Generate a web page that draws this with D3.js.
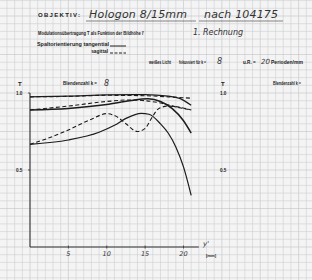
<!DOCTYPE html>
<html>
<head>
<meta charset="utf-8">
<script src="https://cdn.jsdelivr.net/npm/d3@7"></script>
<style>
  html, body { margin: 0; padding: 0; background: #f4f4f4; }
  svg { display: block; }
  .print { font-family: "Liberation Sans", Arial, sans-serif; font-weight: bold; fill: #222; }
  .hand { font-family: "DejaVu Sans", sans-serif; font-style: italic; fill: #333; }
</style>
</head>
<body>
<script>
// measured curves: [image height y' in mm, T]
const tanHigh = [[0,0.975],[5,0.98],[10,0.988],[15,0.99],[18,0.98],[19.5,0.965],[21,0.92]];
const tanMid  = [[0,0.89],[5,0.9],[10,0.925],[13,0.95],[15.4,0.962],[17,0.945],[18.5,0.9],[20,0.82],[21,0.74]];
const tanLow  = [[0,0.667],[5,0.695],[9,0.745],[11,0.79],[12.5,0.835],[14.5,0.868],[15.5,0.862],[17,0.8],[18,0.74],[19,0.65],[20,0.52],[21,0.335]];
const sagHigh = [[0,0.975],[5,0.978],[10,0.985],[15,0.982],[18,0.975],[21,0.966]];
const sagMid  = [[0,0.89],[5,0.915],[10,0.945],[13,0.955],[15,0.95],[17,0.935],[19,0.91],[21,0.89]];
const sagLow  = [[0,0.667],[2,0.7],[5,0.76],[8,0.83],[10,0.866],[11.5,0.84],[12.5,0.8],[14,0.75],[15,0.77],[16,0.85],[16.8,0.9],[18,0.915],[21,0.89]];

const xTicks = [5, 10, 15, 20];
const yTicks = [1.0, 0.5];

const width = 312, height = 280;
const svg = d3.select("body").append("svg")
              .attr("width", width)
              .attr("height", height);

// scales: origin of the left chart at (30,247)
const x = d3.scaleLinear().domain([0, 20]).range([30, 183.5]);
const y = d3.scaleLinear().domain([0, 1]).range([247, 93]);

// graph paper
const grid = svg.append("g").attr("stroke", "#cdced3").attr("stroke-width", 0.6);
d3.range(-4, 38).forEach(u => {
  grid.append("line").attr("x1", x(u)).attr("x2", x(u)).attr("y1", 0).attr("y2", height)
      .attr("stroke", u % 5 === 0 ? "#c2c3c8" : null);
});
d3.range(-6, 33).forEach(k => {
  grid.append("line").attr("x1", 0).attr("x2", width).attr("y1", y(k * 0.05)).attr("y2", y(k * 0.05))
      .attr("stroke", k % 5 === 0 ? "#c2c3c8" : null);
});

// header texts
svg.append("text").attr("class", "print").attr("x", 38).attr("y", 17)
   .attr("font-size", 6).attr("textLength", 42).attr("lengthAdjust", "spacing").text("OBJEKTIV:");
svg.append("text").attr("class", "hand").attr("x", 89).attr("y", 18)
   .attr("font-size", 11).attr("textLength", 98).text("Hologon  8/15mm");
svg.append("text").attr("class", "hand").attr("x", 204).attr("y", 18)
   .attr("font-size", 11).attr("textLength", 74).text("nach 104175");
svg.append("line").attr("x1", 86).attr("x2", 196).attr("y1", 21).attr("y2", 21).attr("stroke", "#555").attr("stroke-width", 0.7);
svg.append("line").attr("x1", 199).attr("x2", 283).attr("y1", 21).attr("y2", 21).attr("stroke", "#555").attr("stroke-width", 0.7);

svg.append("text").attr("class", "print").attr("x", 38).attr("y", 35)
   .attr("font-size", 4.8).attr("textLength", 106).attr("lengthAdjust", "spacingAndGlyphs")
   .text("Modulationsübertragung  T  als Funktion der Bildhöhe I'");
svg.append("text").attr("class", "hand").attr("x", 193).attr("y", 35)
   .attr("font-size", 8).attr("textLength", 50).text("1. Rechnung");

svg.append("text").attr("class", "print").attr("x", 37).attr("y", 46)
   .attr("font-size", 4.8).attr("textLength", 72).attr("lengthAdjust", "spacingAndGlyphs")
   .text("Spaltorientierung tangential");
svg.append("text").attr("class", "print").attr("x", 108).attr("y", 53).attr("text-anchor", "end")
   .attr("font-size", 4.8).text("sagittal");
svg.append("line").attr("x1", 110).attr("x2", 126).attr("y1", 46).attr("y2", 46).attr("stroke", "#222").attr("stroke-width", 1);
svg.append("line").attr("x1", 110).attr("x2", 126).attr("y1", 53).attr("y2", 53).attr("stroke", "#222").attr("stroke-width", 1).attr("stroke-dasharray", "3,1.5");

svg.append("text").attr("class", "print").attr("x", 149).attr("y", 63.5)
   .attr("font-size", 4.6).attr("textLength", 22).attr("lengthAdjust", "spacingAndGlyphs").text("weißes Licht");
svg.append("text").attr("class", "print").attr("x", 179).attr("y", 63.5)
   .attr("font-size", 4.6).attr("textLength", 27).attr("lengthAdjust", "spacingAndGlyphs").text("fokussiert für k =");
svg.append("text").attr("class", "hand").attr("x", 217).attr("y", 64).attr("font-size", 8).text("8");
svg.append("text").attr("class", "print").attr("x", 243).attr("y", 63.5)
   .attr("font-size", 4.6).text("u.R.  =");
svg.append("text").attr("class", "hand").attr("x", 261).attr("y", 64).attr("font-size", 7).text("20");
svg.append("text").attr("class", "print").attr("x", 271).attr("y", 63.5)
   .attr("font-size", 4.6).attr("textLength", 32).attr("lengthAdjust", "spacingAndGlyphs").text("Perioden/mm");

// left chart labels
svg.append("text").attr("class", "print").attr("x", 18).attr("y", 86).attr("font-size", 6).text("T");
svg.append("text").attr("class", "print").attr("x", 63).attr("y", 85)
   .attr("font-size", 4.6).attr("textLength", 34).attr("lengthAdjust", "spacingAndGlyphs").text("Blendenzahl k =");
svg.append("text").attr("class", "hand").attr("x", 104).attr("y", 86).attr("font-size", 8).text("8");

// right chart labels (empty chart)
svg.append("text").attr("class", "print").attr("x", 221).attr("y", 86).attr("font-size", 6).text("T");
svg.append("text").attr("class", "print").attr("x", 273).attr("y", 85)
   .attr("font-size", 4.6).attr("textLength", 28).attr("lengthAdjust", "spacingAndGlyphs").text("Blendenzahl k =");
yTicks.forEach(t => {
  svg.append("text").attr("class", "print").attr("x", 220).attr("y", y(t) + 1.8)
     .attr("font-size", 4.6).text(t.toFixed(1));
});

// axes
const axes = svg.append("g").attr("stroke", "#333").attr("stroke-width", 1.1);
axes.append("line").attr("x1", x(0)).attr("x2", x(0)).attr("y1", y(1)).attr("y2", y(0));
axes.append("line").attr("x1", x(0)).attr("x2", x(22)).attr("y1", y(0)).attr("y2", y(0));
yTicks.forEach(t => {
  axes.append("line").attr("x1", x(0) - 2).attr("x2", x(0)).attr("y1", y(t)).attr("y2", y(t)).attr("stroke-width", 0.8);
  svg.append("text").attr("class", "print").attr("x", 16).attr("y", y(t) + 1.8)
     .attr("font-size", 4.6).text(t.toFixed(1));
});
xTicks.forEach(u => {
  axes.append("line").attr("x1", x(u)).attr("x2", x(u)).attr("y1", y(0) - 1.5).attr("y2", y(0) + 1.5).attr("stroke-width", 0.8);
  svg.append("text").attr("class", "hand").attr("x", x(u)).attr("y", y(0) + 9)
     .attr("text-anchor", "middle").attr("font-size", 6.5).text(u);
});
svg.append("text").attr("class", "hand").attr("x", 203).attr("y", 246).attr("font-size", 7).text("y'");
svg.append("text").attr("class", "print").attr("x", 211).attr("y", 256.5)
   .attr("text-anchor", "middle").attr("font-size", 4.2).text("[mm]");

// curves
const line = d3.line()
               .x(d => x(d[0]))
               .y(d => y(d[1]))
               .curve(d3.curveMonotoneX);

const series = [
  {data: tanHigh, dash: null, w: 1.2},
  {data: tanMid,  dash: null, w: 1.5},
  {data: tanLow,  dash: null, w: 1.2},
  {data: sagHigh, dash: "4,2.5", w: 1.1},
  {data: sagMid,  dash: "4,2.5", w: 1.1},
  {data: sagLow,  dash: "4,2.5", w: 1.1}
];
series.forEach(s => {
  svg.append("path")
     .attr("d", line(s.data))
     .attr("fill", "none")
     .attr("stroke", "#1c1c1c")
     .attr("stroke-width", s.w)
     .attr("stroke-dasharray", s.dash);
});
</script>
</body>
</html>
